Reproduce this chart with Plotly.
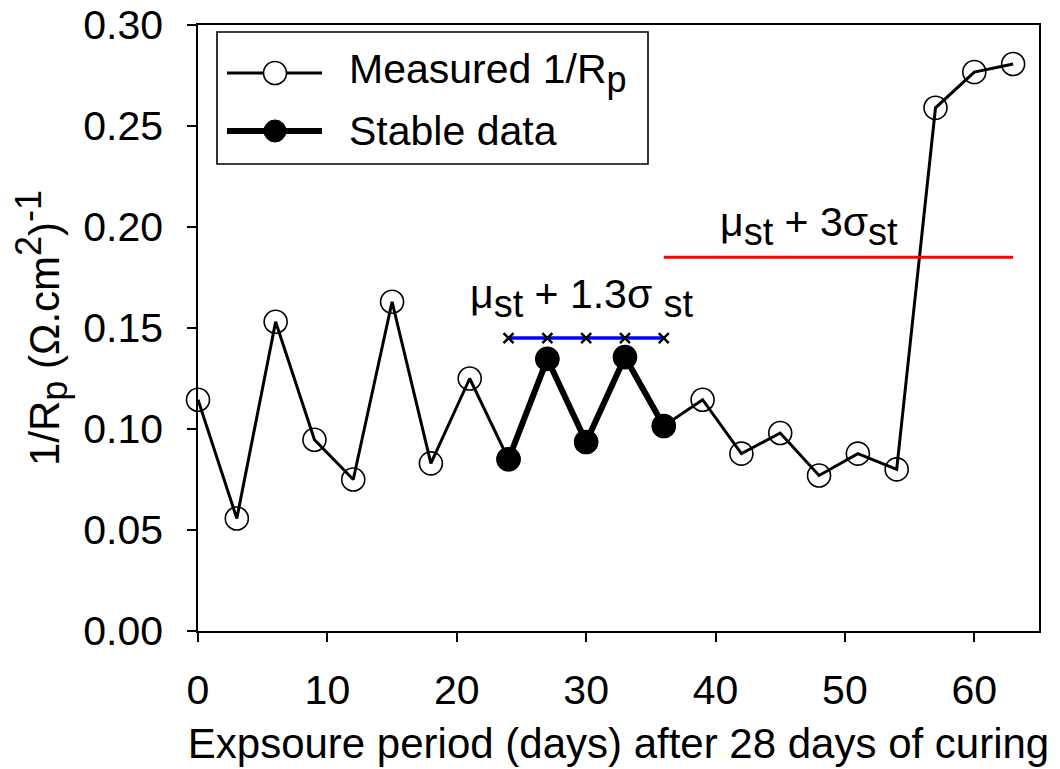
import plotly.graph_objects as go

# ---- data ----
days = [0, 3, 6, 9, 12, 15, 18, 21, 24, 27, 30, 33, 36, 39, 42, 45, 48, 51, 54, 57, 60, 63]
inv_rp = [0.1145, 0.0557, 0.1531, 0.0947, 0.075, 0.163, 0.083, 0.125, 0.085, 0.1347,
          0.0936, 0.1356, 0.1015, 0.1145, 0.0878, 0.098, 0.077, 0.0878, 0.080, 0.259,
          0.2767, 0.2807]
stable_days = [24, 27, 30, 33, 36]
stable_vals = [0.085, 0.1347, 0.0936, 0.1356, 0.1015]
thr13_days = [24, 27, 30, 33, 36]
thr13_vals = [0.145, 0.145, 0.145, 0.145, 0.145]
thr3_days = [36, 63]
thr3_vals = [0.185, 0.185]
x_ticks = [0, 10, 20, 30, 40, 50, 60]
y_ticks = [0.00, 0.05, 0.10, 0.15, 0.20, 0.25, 0.30]

FONT = "Liberation Sans, Arial, sans-serif"


def sub(t, size=32):
    return "<sub><span style='font-size:%dpx'>%s</span></sub>" % (size, t)


def sup(t, size=32):
    return "<sup><span style='font-size:%dpx'>%s</span></sup>" % (size, t)


fig = go.Figure()
fig.add_trace(go.Scatter(
    x=days, y=inv_rp, mode="lines+markers",
    line=dict(color="black", width=3),
    marker=dict(symbol="circle-open", size=23, color="black", line=dict(width=1.6)),
    cliponaxis=False, showlegend=False))
fig.add_trace(go.Scatter(
    x=stable_days, y=stable_vals, mode="lines+markers",
    line=dict(color="black", width=6),
    marker=dict(symbol="circle", size=24, color="black"),
    cliponaxis=False, showlegend=False))
fig.add_trace(go.Scatter(
    x=thr13_days, y=thr13_vals, mode="lines+markers",
    line=dict(color="#0000ff", width=3.5),
    marker=dict(symbol="x-thin", size=10, color="black", line=dict(width=2.5, color="black")),
    cliponaxis=False, showlegend=False))
fig.add_trace(go.Scatter(
    x=thr3_days, y=thr3_vals, mode="lines",
    line=dict(color="#ff0000", width=3),
    cliponaxis=False, showlegend=False))

# annotations for thresholds
fig.add_annotation(x=29.7, y=0.165, xref="x", yref="y",
                   text="μ" + sub("st", 38) + " + 1.3σ " + sub("st", 38), showarrow=False,
                   font=dict(size=41, color="black", family=FONT), xanchor="center", yanchor="middle")
fig.add_annotation(x=47.2, y=0.2005, xref="x", yref="y",
                   text="μ" + sub("st", 38) + " + 3σ" + sub("st", 38), showarrow=False,
                   font=dict(size=41, color="black", family=FONT), xanchor="center", yanchor="middle")

# ---- custom legend (paper coordinates) ----
def px2x(px):
    return (px - 198) / 841.0


def py2y(py):
    return (631 - py) / 606.0


shapes = []
shapes.append(dict(type="rect", xref="paper", yref="paper",
                   x0=px2x(217), x1=px2x(648), y0=py2y(164), y1=py2y(32),
                   line=dict(color="black", width=1.6), fillcolor="white", layer="above"))
r1 = 73
r2 = 131
shapes.append(dict(type="line", xref="paper", yref="paper",
                   x0=px2x(227), x1=px2x(322), y0=py2y(r1), y1=py2y(r1),
                   line=dict(color="black", width=3), layer="above"))
shapes.append(dict(type="circle", xref="paper", yref="paper",
                   x0=px2x(275 - 11.5), x1=px2x(275 + 11.5), y0=py2y(r1 + 11.5), y1=py2y(r1 - 11.5),
                   line=dict(color="black", width=1.6), fillcolor="white", layer="above"))
shapes.append(dict(type="line", xref="paper", yref="paper",
                   x0=px2x(227), x1=px2x(322), y0=py2y(r2), y1=py2y(r2),
                   line=dict(color="black", width=6), layer="above"))
shapes.append(dict(type="circle", xref="paper", yref="paper",
                   x0=px2x(275 - 11), x1=px2x(275 + 11), y0=py2y(r2 + 11), y1=py2y(r2 - 11),
                   line=dict(color="black", width=1), fillcolor="black", layer="above"))
fig.add_annotation(x=px2x(347), y=py2y(73), xref="paper", yref="paper",
                   text="Measured 1/R" + sub("p", 36), showarrow=False,
                   font=dict(size=41, color="black", family=FONT), xanchor="left", yanchor="middle")
fig.add_annotation(x=px2x(347), y=py2y(131), xref="paper", yref="paper",
                   text="Stable data", showarrow=False,
                   font=dict(size=41, color="black", family=FONT), xanchor="left", yanchor="middle")

# page body has an 8px margin -> figure starts at (8, 8) in the window
fig.update_layout(
    width=1052, height=761,
    margin=dict(l=190, r=21, t=17, b=138, pad=0, autoexpand=False),
    paper_bgcolor="white", plot_bgcolor="white",
    font=dict(family=FONT, color="black", size=40),
    shapes=shapes,
    showlegend=False,
)
fig.update_xaxes(
    range=[0, 65], tickvals=x_ticks, ticktext=[str(v) for v in x_ticks],
    ticks="outside", ticklen=9, tickwidth=1.5, tickcolor="black",
    showline=True, linecolor="black", linewidth=1.6, mirror=True,
    showgrid=False, zeroline=False, automargin=False, ticklabeloverflow="allow",
    tickfont=dict(size=41, family=FONT), ticklabelstandoff=13,
    title=dict(text="Expsoure period (days) after 28 days of curing",
               font=dict(size=42, family=FONT), standoff=17),
)
fig.update_yaxes(
    range=[0, 0.30], tickvals=y_ticks, ticktext=["%.2f" % v for v in y_ticks],
    ticks="outside", ticklen=9, tickwidth=1.5, tickcolor="black",
    showline=True, linecolor="black", linewidth=1.6, mirror=True,
    showgrid=False, zeroline=False, automargin=False, ticklabeloverflow="allow",
    tickfont=dict(size=41, family=FONT), ticklabelstandoff=16,
    title=dict(text="1/R" + sub("p", 36) + " (Ω.cm" + sup("2", 36) + ")" + sup("-1", 36),
               font=dict(size=42, family=FONT), standoff=12),
)

fig.write_html("out.html")
